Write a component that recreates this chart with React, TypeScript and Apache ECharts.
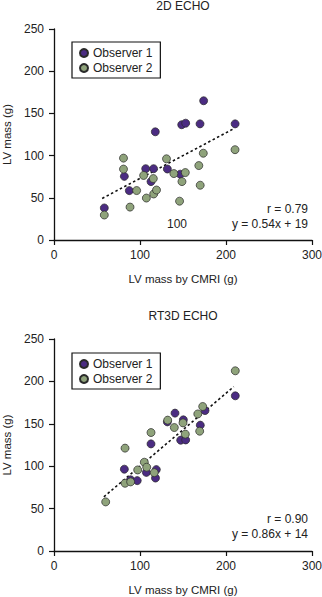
import React, { useEffect, useRef } from "react";
import * as echarts from "echarts";

// Chart 1: 2D ECHO
const echo2dObs1: [number, number][] = [
  [58.5, 38], [81.8, 75.4], [87.6, 58.5], [106.6, 84.5], [112.8, 69.2],
  [115.8, 84.5], [117.8, 128.2], [131.8, 84.1], [146.8, 78], [148.5, 136.6],
  [153.1, 138.4], [169.8, 137.6], [174, 165], [210.6, 137.6],
];
const echo2dObs2: [number, number][] = [
  [58.5, 29.6], [80.8, 97], [80.8, 84], [88.4, 39], [96.1, 58.6],
  [104.2, 76.5], [107.4, 49.7], [115.5, 72.8], [115.9, 54.5], [119.2, 59.2],
  [130.8, 96.2], [139.4, 78.7], [146, 46], [148.8, 69.2], [152.7, 79.9],
  [168.4, 88.2], [170, 64.9], [173.6, 102.8], [210.5, 107],
];
const echo2dFitX = [56, 210];
const echo2dSlope = 0.54;
const echo2dIntercept = 19;

// Chart 2: RT3D ECHO
const rt3dObs1: [number, number][] = [
  [81.8, 96.5], [89, 84], [96.8, 83], [107.4, 92.7], [118, 86],
  [119, 96], [112.8, 126.3], [131.8, 152.3], [140.7, 162.6], [147.3, 130.7],
  [150.4, 154.7], [153.1, 131], [170.1, 148.4], [175.6, 165.6], [210.8, 183],
];
const rt3dObs2: [number, number][] = [
  [60.1, 57.9], [82.6, 79.9], [89.1, 81.5], [97.3, 95.6], [105, 104.7],
  [107.8, 98.8], [116.6, 92.4], [82.6, 121.3], [112.8, 139.7], [132.2, 154.3],
  [139.9, 145.6], [150, 151.1], [152.7, 137.8], [169.4, 141.3], [167.2, 161.6],
  [172.9, 170.4], [210.8, 212.5],
];
const rt3dFitX = [58, 209];
const rt3dSlope = 0.86;
const rt3dIntercept = 14;

const titles = ["2D ECHO", "RT3D ECHO"];
const seriesNames = ["Observer 1", "Observer 2"];
const xTicks = { min: 0, max: 300, interval: 100 };
const yTicks = { min: 0, max: 250, interval: 50 };
const xName = "LV mass by CMRI (g)";
const yName = "LV mass (g)";
const statTexts = [
  ["r = 0.79", "y = 0.54x + 19"],
  ["r = 0.90", "y = 0.86x + 14"],
];
const strayLabel = "100";

const PURPLE = "#4b2c82";
const GREEN = "#8fa37b";
const TEXT = "#222";
const FONT = "'Liberation Sans', Arial, sans-serif";

export default function App() {
  const ref = useRef<HTMLDivElement>(null);
  useEffect(() => {
    if (!ref.current) return;
    const chart = echarts.init(ref.current, undefined, { renderer: "svg" });
    const grids = [
      { left: 54, top: 29, width: 258, height: 211, containLabel: false, outerBoundsMode: "none" },
      { left: 54, top: 339, width: 258, height: 212, containLabel: false, outerBoundsMode: "none" },
    ];
    const axisCommon = {
      axisLine: { show: true, lineStyle: { color: "#111", width: 1.3 } },
      axisTick: { show: true, inside: false, length: 5, lineStyle: { color: "#111", width: 1.2 } },
      splitLine: { show: false },
      axisLabel: { color: TEXT, fontSize: 12, fontFamily: FONT },
      nameTextStyle: { color: TEXT, fontSize: 11.5, fontFamily: FONT },
    };
    const xAxis = [0, 1].map((i) => ({
      ...axisCommon,
      type: "value",
      gridIndex: i,
      min: xTicks.min,
      max: xTicks.max,
      interval: xTicks.interval,
      name: xName,
      nameLocation: "middle",
      nameGap: 33,
      axisLabel: { ...axisCommon.axisLabel, margin: 9 },
    }));
    const yAxis = [0, 1].map((i) => ({
      ...axisCommon,
      type: "value",
      gridIndex: i,
      min: yTicks.min,
      max: yTicks.max,
      interval: yTicks.interval,
      name: yName,
      nameLocation: "middle",
      nameGap: 39,
      axisLabel: { ...axisCommon.axisLabel, margin: 10 },
    }));
    const scatter = (name: string, data: [number, number][], color: string, idx: number) => ({
      type: "scatter",
      name,
      xAxisIndex: idx,
      yAxisIndex: idx,
      data,
      symbol: "circle",
      symbolSize: 8,
      itemStyle: { color, borderColor: "#2a2a2a", borderWidth: 0.7, opacity: 1 },
      emphasis: { disabled: true },
    });
    const fit = (xs: number[], m: number, b: number, idx: number) => ({
      type: "line",
      xAxisIndex: idx,
      yAxisIndex: idx,
      data: xs.map((x) => [x, m * x + b]),
      symbol: "none",
      lineStyle: { color: "#111", width: 1.6, type: [2.5, 2.5] },
      z: 1,
      silent: true,
    });
    const legend = (top: number) => ({
      orient: "vertical",
      left: 72,
      top,
      data: seriesNames,
      borderColor: "#111",
      borderWidth: 1.2,
      padding: [5, 8, 4, 7],
      itemGap: 3,
      itemWidth: 8,
      itemHeight: 8,
      icon: "circle",
      textStyle: { color: TEXT, fontSize: 12, fontFamily: FONT },
      selectedMode: false,
    });
    const statText = (lines: string[], yTop: number) =>
      lines.map((t, k) => ({
        type: "text",
        right: 322 - 308,
        top: yTop + k * 14.5,
        style: { text: t, fill: TEXT, font: `12px ${FONT}`, textAlign: "right" },
      }));
    chart.setOption({
      animation: false,
      textStyle: { fontFamily: FONT },
      title: [
        { text: titles[0], left: 183, top: 0, textAlign: "center", padding: 0, textStyle: { color: TEXT, fontSize: 12, fontWeight: "normal", fontFamily: FONT } },
        { text: titles[1], left: 183, top: 310, textAlign: "center", padding: 0, textStyle: { color: TEXT, fontSize: 12, fontWeight: "normal", fontFamily: FONT } },
      ],
      grid: grids,
      xAxis,
      yAxis,
      legend: [legend(42), legend(353)],
      series: [
        fit(echo2dFitX, echo2dSlope, echo2dIntercept, 0),
        scatter(seriesNames[0], echo2dObs1, PURPLE, 0),
        scatter(seriesNames[1], echo2dObs2, GREEN, 0),
        fit(rt3dFitX, rt3dSlope, rt3dIntercept, 1),
        scatter(seriesNames[0], rt3dObs1, PURPLE, 1),
        scatter(seriesNames[1], rt3dObs2, GREEN, 1),
      ],
      graphic: [
        ...statText(statTexts[0], 203),
        ...statText(statTexts[1], 513),
        {
          type: "text",
          left: 167,
          top: 218,
          style: { text: strayLabel, fill: TEXT, font: `12px ${FONT}` },
        },
      ],
    });
    return () => chart.dispose();
  }, []);
  return (
    <div
      ref={ref}
      style={{ position: "fixed", left: 0, top: 0, width: 322, height: 597, background: "#fff" }}
    />
  );
}
